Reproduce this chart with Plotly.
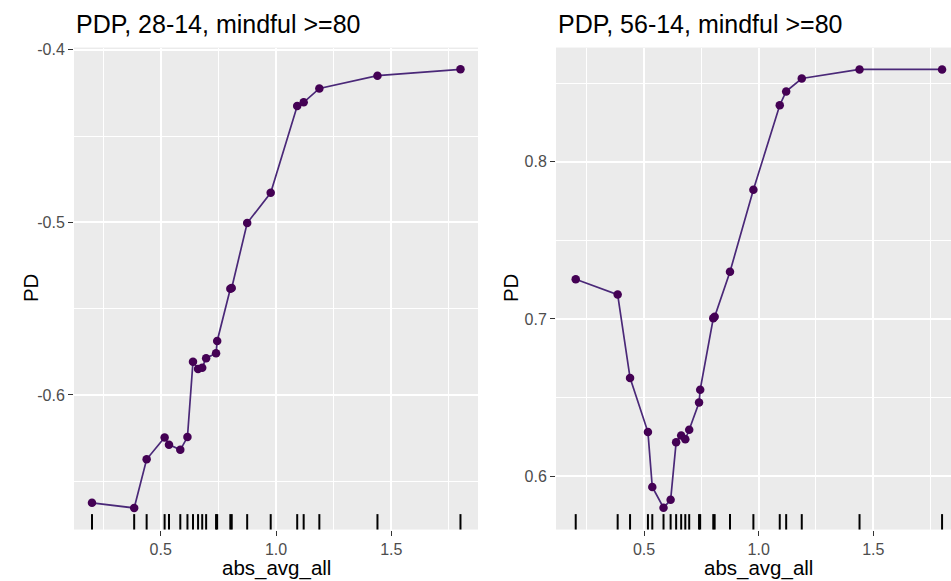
import plotly.graph_objects as go

# Data
grid_x = [0.202, 0.385, 0.439, 0.517, 0.536, 0.585, 0.616, 0.640, 0.662, 0.680, 0.697,
          0.740, 0.745, 0.802, 0.808, 0.875, 0.977, 1.092, 1.120, 1.188, 1.440, 1.800]
pd_28_14 = [-0.6625, -0.6655, -0.6373, -0.6246, -0.6288, -0.6318, -0.6244, -0.5807, -0.5850,
            -0.5842, -0.5787, -0.5758, -0.5687, -0.5385, -0.5380, -0.5004, -0.4829, -0.4326,
            -0.4304, -0.4224, -0.4150, -0.4113]
pd_56_14 = [0.7253, 0.7155, 0.6625, 0.6280, 0.5931, 0.5799, 0.5849, 0.6215, 0.6259, 0.6234,
            0.6295, 0.6468, 0.6550, 0.7004, 0.7014, 0.7301, 0.7822, 0.8360, 0.8448, 0.8530,
            0.8588, 0.8588]
rug_x = grid_x
titles = ["PDP, 28-14, mindful >=80", "PDP, 56-14, mindful >=80"]
x_ticks = [0.5, 1.0, 1.5]
left_y_ticks = [-0.6, -0.5, -0.4]
right_y_ticks = [0.6, 0.7, 0.8]

W, H = 951, 581
LINE = "#440154"
FONT = "Liberation Sans, Arial, sans-serif"

fig = go.Figure()
fig.add_trace(go.Scatter(x=grid_x, y=pd_28_14, mode="lines+markers", xaxis="x", yaxis="y",
                         line=dict(color="#4A2878", width=1.7), marker=dict(color=LINE, size=8.5),
                         showlegend=False))
fig.add_trace(go.Scatter(x=grid_x, y=pd_56_14, mode="lines+markers", xaxis="x2", yaxis="y2",
                         line=dict(color="#4A2878", width=1.7), marker=dict(color=LINE, size=8.5),
                         showlegend=False))

shapes = []
for xr, yr in (("x", "y domain"), ("x2", "y2 domain")):
    for v in rug_x:
        shapes.append(dict(type="line", xref=xr, yref=yr, x0=v, x1=v, y0=0, y1=0.032,
                           line=dict(color="black", width=2), layer="above"))

ydom = [(H - 529) / H, (H - 42) / H]
base_axis = dict(showgrid=True, gridcolor="white", gridwidth=1.6, zeroline=False,
                 ticks="outside", ticklen=5, tickcolor="#333333", tickwidth=1.2,
                 tickfont=dict(family=FONT, size=16, color="#4D4D4D"),
                 showline=False)


def minor(step):
    return dict(showgrid=True, gridcolor="white", gridwidth=0.8, dtick=step, tick0=0, ticks="")


fig.update_layout(
    width=W, height=H,
    margin=dict(l=0, r=0, t=0, b=0),
    paper_bgcolor="white", plot_bgcolor="#EBEBEB",
    font=dict(family=FONT),
    xaxis=dict(domain=[74 / W, 478 / W], range=[0.124, 1.876], tickvals=x_ticks,
               ticktext=["0.5", "1.0", "1.5"], anchor="y", minor=minor(0.25), **base_axis),
    yaxis=dict(domain=ydom, range=[-0.678, -0.3987], tickvals=left_y_ticks,
               ticktext=["-0.6", "-0.5", "-0.4"], anchor="x", minor=minor(0.05), **base_axis),
    xaxis2=dict(domain=[556 / W, 1.0], range=[0.116, 1.839], tickvals=x_ticks,
                ticktext=["0.5", "1.0", "1.5"], anchor="y2", minor=minor(0.25), **base_axis),
    yaxis2=dict(domain=ydom, range=[0.566, 0.8727], tickvals=right_y_ticks,
                ticktext=["0.6", "0.7", "0.8"], anchor="x2", minor=minor(0.05), **base_axis),
    shapes=shapes,
)

ann = []
for t, xl in zip(titles, [74, 556]):
    ann.append(dict(text=t, x=xl / W, y=(H - 18) / H, xref="paper", yref="paper",
                    xanchor="left", yanchor="middle", showarrow=False,
                    font=dict(family=FONT, size=25, color="black")))
for xc in [276, 758]:
    ann.append(dict(text="abs_avg_all", x=xc / W, y=(H - 568) / H, xref="paper", yref="paper",
                    xanchor="center", yanchor="middle", showarrow=False,
                    font=dict(family=FONT, size=20.5, color="black")))
for xc in [30, 510]:
    ann.append(dict(text="PD", x=xc / W, y=(H - 285) / H, xref="paper", yref="paper",
                    xanchor="center", yanchor="middle", showarrow=False, textangle=-90,
                    font=dict(family=FONT, size=20.5, color="black")))
fig.update_layout(annotations=ann)

fig.write_html("out.html", config={"displayModeBar": False},
               post_script="document.body.style.margin='0px';document.body.style.padding='0px';"
                           "document.documentElement.style.overflow='hidden';")
